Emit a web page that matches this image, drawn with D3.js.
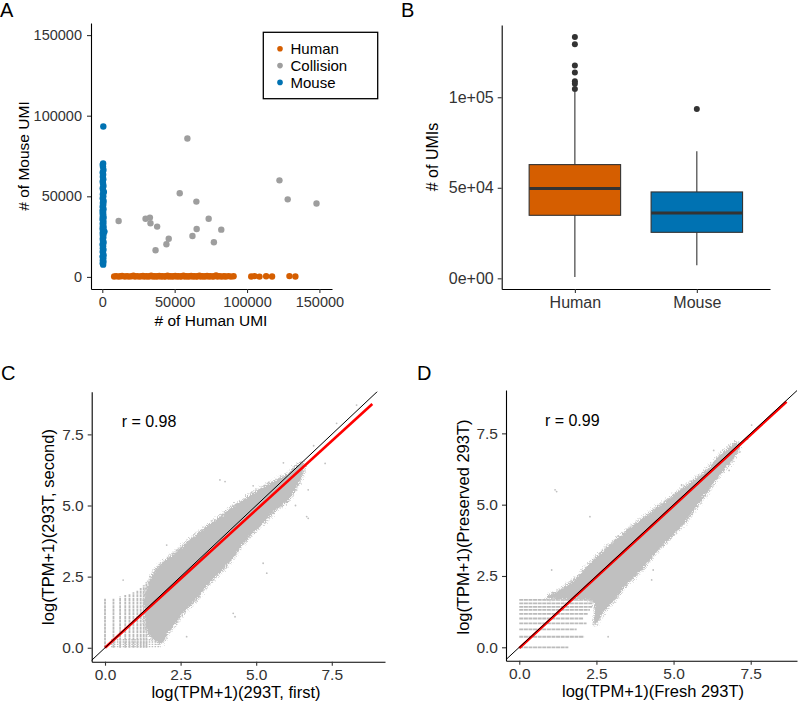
<!DOCTYPE html>
<html><head><meta charset="utf-8">
<script src="https://cdn.jsdelivr.net/npm/d3@7"></script>
<style>
body{margin:0;background:#fff}
svg{display:block}
text{font-family:"Liberation Sans",Arial,Helvetica,sans-serif}
</style>
</head><body>
<svg id="fig" width="800" height="703"></svg>
<script>
// ---------------- DATA ----------------
// Panel A: [human UMI, mouse UMI]
const humanPts = [[8200,300],[9600,500],[11100,200],[12500,400],[13700,600],[15600,300],[17100,500],[18400,200],[20100,400],[21500,700],[22600,300],[24100,500],[25400,200],[26900,400],[28100,600],[29200,300],[30600,500],[31500,200],[32900,400],[33800,700],[35100,300],[36300,500],[37200,200],[38500,400],[39400,600],[40700,300],[41600,500],[42900,200],[43800,400],[45100,700],[46000,300],[47300,500],[48200,200],[49500,400],[50400,600],[51700,300],[52600,500],[53900,200],[54800,400],[56100,700],[57000,300],[58300,500],[59200,200],[60500,400],[61400,600],[62700,300],[63600,500],[64900,200],[65800,400],[67100,700],[68000,300],[69300,500],[70200,200],[71500,400],[72400,600],[73800,300],[74800,500],[76200,200],[77200,400],[78600,900],[79600,300],[81100,500],[82300,200],[84000,400],[85400,300],[87300,500],[88900,200],[90700,400],[102900,300],[105200,500],[108600,200],[113200,400],[117300,300],[129300,500],[133400,300]];
const collisionPts = [[11300,34700],[29900,36100],[32900,36800],[33300,33300],[37900,31200],[36800,16500],[44300,20300],[45900,23700],[53500,51900],[58800,85900],[65000,46700],[65200,29700],[62300,25400],[73500,36100],[77100,21500],[82200,29300],[122400,59900],[128100,48100],[148000,45500]];
const mousePts = [[600,7600],[300,8500],[800,9400],[400,10300],[700,11500],[200,12600],[900,13400],[500,14800],[300,15700],[800,16900],[400,17800],[600,19200],[200,20100],[900,21300],[500,22400],[300,23600],[700,24500],[400,25700],[800,26400],[300,27300],[1500,28100],[600,29000],[200,29800],[900,30700],[400,31500],[700,32400],[300,33200],[800,34100],[500,35000],[200,35900],[900,36700],[400,37600],[700,38500],[300,39300],[600,40200],[200,41100],[800,42000],[500,42900],[300,43700],[700,44800],[400,45900],[900,46800],[600,47900],[300,48800],[700,50100],[400,51300],[1100,52600],[600,53700],[300,55000],[800,56400],[500,57900],[300,59200],[700,60600],[400,62100],[600,63500],[300,64800],[800,66300],[500,68400],[300,69600],[600,70400],[700,93300]];
const speciesA = ["Human","Collision","Mouse"];
const speciesColors = ["#D55E00","#9E9E9E","#0072B2"];
const aXTicks = [0,50000,100000,150000];
const aYTicks = [0,50000,100000,150000];

// Panel B: box statistics
const boxCats = ["Human","Mouse"];
const boxQ1 = [34800,25400];
const boxMed = [49600,36100];
const boxQ3 = [62800,47700];
const boxLo = [700,7200];
const boxHi = [103000,70200];
const boxOut = [[133300,129300,117500,113600,108800,107500,104600],[93500]];
const bTicks = [0,50000,100000];
const bTickLabels = ["0e+00","5e+04","1e+05"];

// Panel C (first vs second)
const cCloud = [[1.3,1.8],[1.45,2.3],[1.71,2.8],[2.15,3.22],[2.48,3.5],[2.81,3.8],[3.14,4.1],[3.58,4.45],[3.91,4.7],[4.24,4.98],[4.57,5.2],[4.9,5.45],[5.23,5.66],[5.57,5.86],[6.01,6.1],[6.3,6.38],[6.5,6.5],[6.6,6.38],[6.12,5.25],[5.68,4.86],[5.35,4.5],[5.02,4.15],[4.69,3.8],[4.36,3.35],[4.02,2.88],[3.69,2.52],[3.36,2.16],[3.03,1.7],[2.7,1.35],[2.37,0.9],[2.1,0.55],[1.87,0.15],[1.6,0.3],[1.42,0.5],[1.32,1.0]];
const cStripeX = [0,0.28,0.5,0.67,0.81,0.94,1.07,1.18,1.28,1.37];
const cStripeTop = [1.72,1.72,1.8,1.85,1.9,1.95,2.0,2.1,2.2,2.3];
const cRowY = [0.04,0.12,0.2,0.28];
const cRowEnd = [1.85,1.8,1.75,1.6];
const cOutliers = [[3.97,5.84],[4.9,5.69],[6.72,5.55],[6.67,4.61],[8.32,8.53],[7.66,7.89],[7.28,6.48],[2.04,3.61],[1.49,2.5],[2.7,0.39],[5.23,2.97],[0.6,2.38],[4.24,1.21],[4.3,1.09],[5.35,2.62],[6.72,4.55],[3.8,5.9],[6.9,7.1],[7.1,6.9],[5.9,6.5],[6.3,5.0]];
const cFit = [[0,0],[8.84,8.57]];
const cR = "r = 0.98";

// Panel D (fresh vs preserved)
const dCloud = [[0.9,1.75],[1.37,2.05],[1.8,2.4],[2.23,2.88],[2.67,3.35],[3.1,3.75],[3.53,4.15],[3.96,4.5],[4.39,4.86],[4.83,5.2],[5.26,5.55],[5.69,5.9],[6.01,6.15],[6.4,6.62],[6.8,7.02],[7.05,7.18],[7.15,7.05],[6.9,6.55],[6.5,6.05],[6.01,5.3],[5.69,4.85],[5.36,4.35],[5.04,4.0],[4.71,3.62],[4.39,3.28],[4.07,2.83],[3.75,2.48],[3.42,2.12],[3.1,1.66],[2.78,1.31],[2.45,0.8],[2.4,1.6],[1.5,1.68]];
const dStripeY = [0,0.37,0.63,0.84,1.01,1.17,1.31,1.42,1.54,1.66];
const dStripeEnd = [1.59,2.1,1.86,2.18,2.07,2.23,2.29,2.36,2.4,2.45];
const dOutliers = [[1.16,5.52],[2.29,4.58],[4.34,2.71],[2.88,0.37],[7.53,7.79],[1.21,5.46],[4.29,3.7],[4.29,2.36],[1.05,2.71],[5.26,5.69],[6.3,6.9],[7.4,7.3],[5.0,4.3],[3.2,3.9],[6.8,6.2]];
const dFit = [[0,-0.03],[8.66,8.61]];
const dR = "r = 0.99";
const lTicks = [0,2.5,5,7.5];

// ---------------- DRAW ----------------
const svg = d3.select("#fig");
const FONT = '"Liberation Sans",Arial,Helvetica,sans-serif';
const defs = svg.append("defs");
const flt = defs.append("filter").attr("id","rough").attr("x","-5%").attr("y","-5%").attr("width","110%").attr("height","110%");
flt.append("feTurbulence").attr("type","fractalNoise").attr("baseFrequency","0.9").attr("numOctaves",2).attr("seed",3).attr("result","n");
flt.append("feDisplacementMap").attr("in","SourceGraphic").attr("in2","n").attr("scale",6)
  .attr("xChannelSelector","R").attr("yChannelSelector","G");

function styleAxis(g, fs){
  g.attr("font-family", FONT);
  g.select(".domain").attr("stroke","#000").attr("stroke-width",1.1);
  g.selectAll(".tick line").attr("stroke","#333").attr("stroke-width",1.1);
  g.selectAll(".tick text").attr("fill","#333").style("font-size", fs+"px");
}
function label(t, x, y, fs, rot){
  const e = svg.append("text").attr("x",x).attr("y",y).attr("text-anchor","middle")
    .attr("dominant-baseline","central").style("font-size",fs+"px").attr("fill","#000").text(t);
  if(rot) e.attr("transform",`rotate(-90,${x},${y})`);
  return e;
}
function panelLetter(t,x,y){
  svg.append("text").attr("x",x).attr("y",y).style("font-size","20px").attr("fill","#000").text(t);
}

// ---- Panel A ----
{
  const x = d3.scaleLinear().domain([-7800,158700]).range([91,332]);
  const y = d3.scaleLinear().domain([-7500,157500]).range([289,23]);
  const g = svg.append("g");
  const groups = [humanPts, collisionPts, mousePts];
  groups.forEach((pts,i)=>{
    g.selectAll(null).data(pts).enter().append("circle")
      .attr("cx",d=>x(d[0])).attr("cy",d=>y(d[1])).attr("r",3.2)
      .attr("fill",speciesColors[i]);
  });
  styleAxis(svg.append("g").attr("transform","translate(0,289)")
    .call(d3.axisBottom(x).tickValues(aXTicks).tickFormat(d3.format("d")).tickSize(4).tickSizeOuter(0).tickPadding(4)),14.5);
  styleAxis(svg.append("g").attr("transform","translate(91,0)")
    .call(d3.axisLeft(y).tickValues(aYTicks).tickFormat(d3.format("d")).tickSize(4).tickSizeOuter(0).tickPadding(5)),14.5);
  label("# of Human UMI", 211, 320, 15.5);
  label("# of Mouse UMI", 23, 156, 15.5, true);
  // legend
  svg.append("rect").attr("x",263.3).attr("y",32.3).attr("width",114.4).attr("height",66.4)
    .attr("fill","#fff").attr("stroke","#000").attr("stroke-width",1.3);
  speciesA.forEach((s,i)=>{
    const yy = 48.8 + i*16.8;
    svg.append("circle").attr("cx",280).attr("cy",yy).attr("r",2.8).attr("fill",speciesColors[i]);
    svg.append("text").attr("x",290.5).attr("y",yy).attr("dominant-baseline","central")
      .style("font-size","15px").attr("fill","#000").text(s);
  });
  panelLetter("A",0,17);
}

// ---- Panel B ----
{
  const x = d3.scaleLinear().domain([0.4,2.6]).range([501.7,770]);
  const y = d3.scaleLinear().domain([-5900,139900]).range([289,25]);
  const g = svg.append("g");
  const bw = 0.75;
  const fills = [speciesColors[0], speciesColors[2]];
  boxCats.forEach((c,i)=>{
    const cx = x(i+1);
    g.append("line").attr("x1",cx).attr("x2",cx).attr("y1",y(boxQ3[i])).attr("y2",y(boxHi[i])).attr("stroke","#333").attr("stroke-width",1.1);
    g.append("line").attr("x1",cx).attr("x2",cx).attr("y1",y(boxQ1[i])).attr("y2",y(boxLo[i])).attr("stroke","#333").attr("stroke-width",1.1);
    g.append("rect").attr("x",x(i+1-bw/2)).attr("width",x(i+1+bw/2)-x(i+1-bw/2))
      .attr("y",y(boxQ3[i])).attr("height",y(boxQ1[i])-y(boxQ3[i]))
      .attr("fill",fills[i]).attr("stroke","#333").attr("stroke-width",1.1);
    g.append("line").attr("x1",x(i+1-bw/2)).attr("x2",x(i+1+bw/2)).attr("y1",y(boxMed[i])).attr("y2",y(boxMed[i]))
      .attr("stroke","#333").attr("stroke-width",3);
    g.selectAll(null).data(boxOut[i]).enter().append("circle")
      .attr("cx",cx).attr("cy",d=>y(d)).attr("r",3).attr("fill","#333");
  });
  styleAxis(svg.append("g").attr("transform","translate(0,289)")
    .call(d3.axisBottom(x).tickValues([1,2]).tickFormat((d,i)=>boxCats[i]).tickSize(4).tickSizeOuter(0).tickPadding(4)),16);
  styleAxis(svg.append("g").attr("transform","translate(501.7,0)")
    .call(d3.axisLeft(y).tickValues(bTicks).tickFormat((d,i)=>bTickLabels[i]).tickSize(4).tickSizeOuter(0).tickPadding(4)),16);
  label("# of UMIs", 432, 157, 16, true);
  panelLetter("B",401,17);
}

// ---- Panels C & D ----
function corrPanel(opt){
  const x = d3.scaleLinear().domain(opt.xd).range(opt.xr);
  const y = d3.scaleLinear().domain(opt.yd).range(opt.yr);
  const id = "clip"+opt.name;
  svg.append("clipPath").attr("id",id).append("rect")
    .attr("x",opt.xr[0]).attr("y",opt.yr[1]).attr("width",opt.xr[1]-opt.xr[0]).attr("height",opt.yr[0]-opt.yr[1]);
  const g = svg.append("g").attr("clip-path",`url(#${id})`);
  const grey = "#c0c0c0";
  // stripes
  opt.stripes(g,x,y,grey);
  // cloud
  const line = d3.line().x(d=>x(d[0])).y(d=>y(d[1])).curve(d3.curveCatmullRomClosed.alpha(0.5));
  const cg = g.append("g").attr("filter","url(#rough)");
  cg.append("path").attr("d",line(opt.cloud)).attr("fill","none")
    .attr("stroke","#cdcdcd").attr("stroke-width",4).attr("stroke-dasharray","1 1.5");
  cg.append("path").attr("d",line(opt.cloud)).attr("fill",grey);
  g.selectAll(null).data(opt.out).enter().append("circle")
    .attr("cx",d=>x(d[0])).attr("cy",d=>y(d[1])).attr("r",0.9).attr("fill",grey);
  // fit & identity
  g.append("line").attr("x1",x(opt.fit[0][0])).attr("y1",y(opt.fit[0][1]))
    .attr("x2",x(opt.fit[1][0])).attr("y2",y(opt.fit[1][1])).attr("stroke","#ff0000").attr("stroke-width",2.6);
  g.append("line").attr("x1",x(-1)).attr("y1",y(-1)).attr("x2",x(10)).attr("y2",y(10))
    .attr("stroke","#000").attr("stroke-width",1);
  styleAxis(svg.append("g").attr("transform",`translate(0,${opt.yr[0]})`)
    .call(d3.axisBottom(x).tickValues(lTicks).tickFormat(d3.format(".1f")).tickSize(4).tickSizeOuter(0).tickPadding(3)),15.5);
  styleAxis(svg.append("g").attr("transform",`translate(${opt.xr[0]},0)`)
    .call(d3.axisLeft(y).tickValues(lTicks).tickFormat(d3.format(".1f")).tickSize(4).tickSizeOuter(0).tickPadding(4)),15.5);
  svg.append("text").attr("x",x(opt.rPos[0])).attr("y",y(opt.rPos[1])).attr("dominant-baseline","central")
    .style("font-size","16px").attr("fill","#000").text(opt.r);
  label(opt.xt, opt.xtPos[0], opt.xtPos[1], 16.5);
  label(opt.yt, opt.ytPos[0], opt.ytPos[1], 16.5, true);
}

corrPanel({name:"C", xd:[-0.44,9.26], xr:[91.7,385], yd:[-0.49,9.0], yr:[661.7,391.7],
  cloud:cCloud, out:cOutliers, fit:cFit, r:cR, rPos:[0.55,7.95],
  xt:"log(TPM+1)(293T, first)", xtPos:[236,691.5],
  yt:"log(TPM+1)(293T, second)", ytPos:[48,527],
  stripes:(g,x,y,grey)=>{
    cStripeX.forEach((sx,i)=>{
      g.append("line").attr("x1",x(sx)).attr("x2",x(sx)).attr("y1",y(0)).attr("y2",y(cStripeTop[i]))
        .attr("stroke","#bbbbbb").attr("stroke-width",1.8).attr("stroke-dasharray","3 0.6");
    });
    cRowY.forEach((ry,i)=>{
      g.append("line").attr("x1",x(0.2)).attr("x2",x(cRowEnd[i])).attr("y1",y(ry)).attr("y2",y(ry))
        .attr("stroke","#bbbbbb").attr("stroke-width",1.4).attr("stroke-dasharray","1.5 1.4");
    });
  }});
panelLetter("C",1,380);

corrPanel({name:"D", xd:[-0.43,9.0], xr:[506,797], yd:[-0.47,9.02], yr:[660.7,390],
  cloud:dCloud, out:dOutliers, fit:dFit, r:dR, rPos:[0.83,7.95],
  xt:"log(TPM+1)(Fresh 293T)", xtPos:[653,690.5],
  yt:"log(TPM+1)(Preserved 293T)", ytPos:[463,527],
  stripes:(g,x,y,grey)=>{
    dStripeY.forEach((sy,i)=>{
      g.append("line").attr("x1",x(0)).attr("x2",x(dStripeEnd[i])).attr("y1",y(sy)).attr("y2",y(sy))
        .attr("stroke","#bbbbbb").attr("stroke-width",1.8).attr("stroke-dasharray","4 0.6");
    });
  }});
panelLetter("D",417,380);
</script>
</body></html>
